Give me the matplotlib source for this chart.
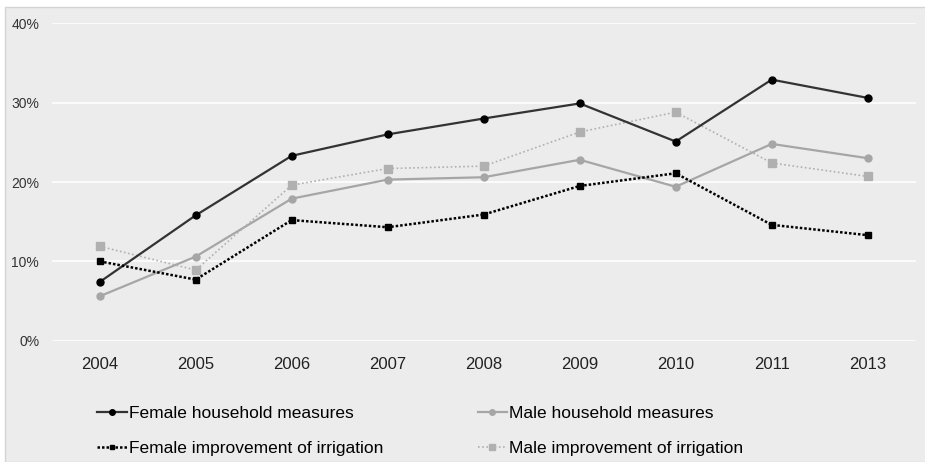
import numpy as np
import matplotlib.pyplot as plt
from matplotlib.patches import Rectangle
from matplotlib.ticker import FuncFormatter

years = ['2004', '2005', '2006', '2007', '2008', '2009', '2010', '2011', '2013']
female_household = [7.4, 15.8, 23.3, 26.0, 28.0, 29.9, 25.1, 32.9, 30.6]
male_household = [5.6, 10.6, 17.9, 20.3, 20.6, 22.8, 19.4, 24.8, 23.0]
female_irrigation = [10.0, 7.7, 15.2, 14.3, 15.9, 19.5, 21.1, 14.6, 13.3]
male_irrigation = [11.9, 8.9, 19.6, 21.7, 22.0, 26.3, 28.8, 22.4, 20.7]

plt.rcParams['font.family'] = ['Liberation Sans', 'DejaVu Sans']

bg = '#ececec'
W, H = 925, 462
fig = plt.figure(figsize=(W / 100, H / 100), dpi=100)
fig.patch.set_facecolor('white')
# chart frame
fig.patches.append(Rectangle((5 / W, 0), 1, 1 - 7 / H, transform=fig.transFigure,
                             facecolor=bg, edgecolor='#d4d4d4', linewidth=1, zorder=-10))

ax = fig.add_axes([51.7 / W, 1 - 340.7 / H, (915.7 - 51.7) / W, (340.7 - 23.3) / H])
ax.set_facecolor(bg)
x = np.arange(len(years))

h1, = ax.plot(x, female_household, color='#333333', lw=1.6, marker='o', ms=5,
              mfc='black', mec='black', label='Female household measures', zorder=4)
h2, = ax.plot(x, male_household, color='#a6a6a6', lw=1.6, marker='o', ms=5,
              mfc='#a6a6a6', mec='#a6a6a6', label='Male household measures', zorder=3)
h3, = ax.plot(x, female_irrigation, color='black', lw=1.8, ls=(0, (1, 0.8)), marker='s', ms=4,
              mfc='black', mec='black', label='Female improvement of irrigation', zorder=4)
h4, = ax.plot(x, male_irrigation, color='#b0b0b0', lw=1.2, ls=(0, (1, 1.5)), marker='s', ms=5.5,
              mfc='#b0b0b0', mec='#b0b0b0', label='Male improvement of irrigation', zorder=3)

ax.set_xlim(-0.5, len(years) - 0.5)
ax.set_ylim(0, 40)
ax.set_yticks([0, 10, 20, 30, 40])
ax.yaxis.set_major_formatter(FuncFormatter(lambda v, p: f'{v:.0f}%'))
ax.set_xticks(x)
ax.set_xticklabels(years)
ax.grid(axis='y', color='white', lw=1.2)
ax.set_axisbelow(True)
for s in ax.spines.values():
    s.set_visible(False)
ax.tick_params(axis='y', length=0, labelsize=10, pad=9, colors='#333333')
ax.tick_params(axis='x', length=0, labelsize=12, pad=12, colors='#222222')

# row-major order: household measures on the first row
handles = [h1, h3, h2, h4]
labels = [h.get_label() for h in handles]
leg = fig.legend(handles, labels, loc='upper left', bbox_to_anchor=(97 / W, 1 - 406 / H),
                 ncol=2, frameon=False, fontsize=12.5, handlelength=1.7,
                 handletextpad=0.12, columnspacing=5.45, labelspacing=1.15,
                 borderaxespad=0, borderpad=0, markerscale=0.8)

fig.savefig('out.png', dpi=100, facecolor=fig.get_facecolor())
